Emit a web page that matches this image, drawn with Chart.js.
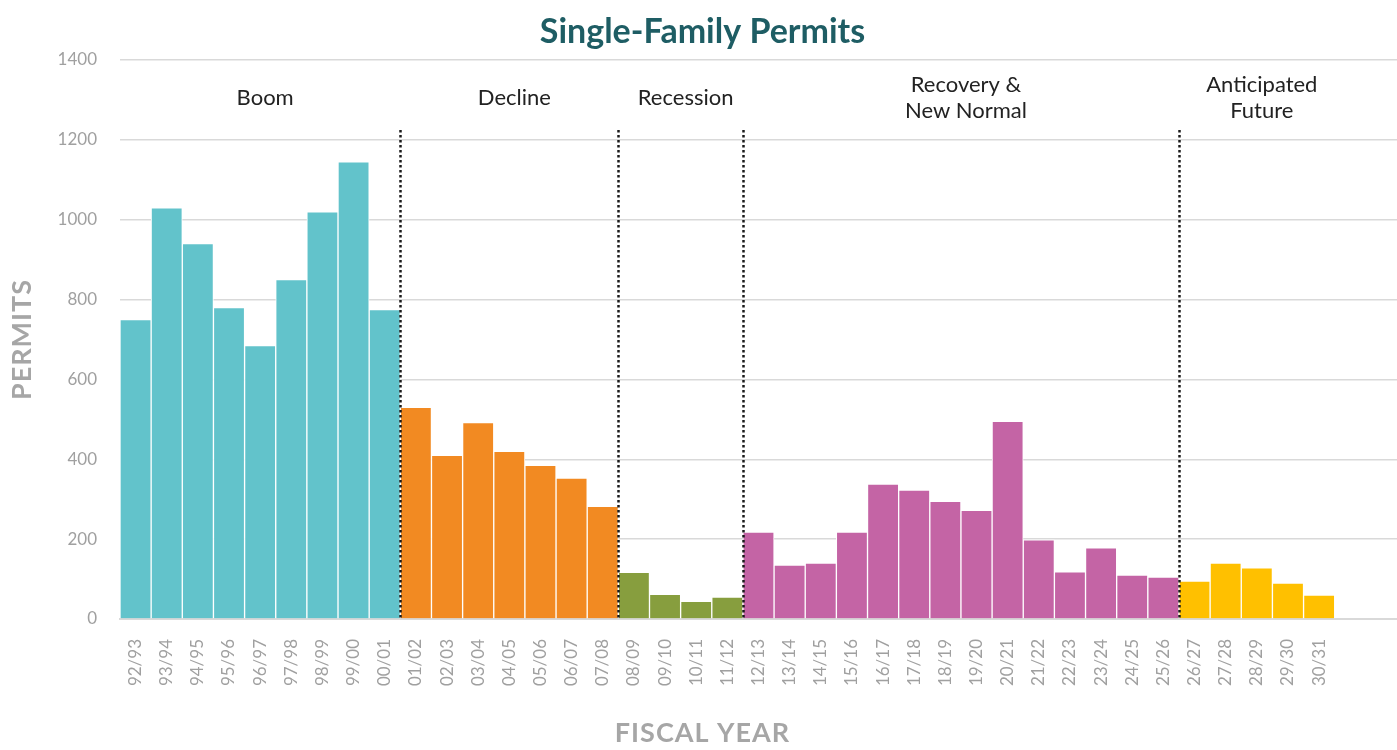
<!DOCTYPE html>
<html>
<head>
<meta charset="utf-8">
<script src="https://cdn.jsdelivr.net/npm/chart.js@4/dist/chart.umd.min.js"></script>
<style>
  html, body { margin: 0; padding: 0; background: #fff; }
  #wrap { width: 1397px; height: 750px; }
</style>
</head>
<body>
<div id="wrap"><canvas id="permitsChart"></canvas></div>
<script>
// fiscal years, two trailing blanks leave room on the right
const years = [
  "92/93", "93/94", "94/95", "95/96", "96/97", "97/98", "98/99", "99/00", "00/01",
  "01/02", "02/03", "03/04", "04/05", "05/06", "06/07", "07/08",
  "08/09", "09/10", "10/11", "11/12",
  "12/13", "13/14", "14/15", "15/16", "16/17", "17/18", "18/19", "19/20", "20/21",
  "21/22", "22/23", "23/24", "24/25", "25/26",
  "26/27", "27/28", "28/29", "29/30", "30/31", "", ""
];

const permits = [
  750, 1030, 940, 780, 685, 850, 1020, 1145, 775,
  530, 410, 492, 420, 385, 353, 282,
  117, 62, 44, 55,
  218, 135, 140, 218, 338, 323, 295, 272, 495, 198, 118, 178, 110, 105,
  95, 140, 128, 90, 60
];

// periods: first index, last index, label lines, bar colour
const phaseNames = [["Boom"], ["Decline"], ["Recession"], ["Recovery &", "New Normal"], ["Anticipated", "Future"]];
const phaseStart = [0, 9, 16, 20, 34];
const phaseEnd = [8, 15, 19, 33, 38];
const phaseColors = ["#62c3cb", "#f28a22", "#879e3e", "#c464a5", "#ffc000"];

const yTicks = [0, 200, 400, 600, 800, 1000, 1200, 1400];

const chartTitle = "Single-Family Permits";
const xTitle = "FISCAL YEAR";
const yTitle = "PERMITS";

const barColors = permits.map((v, i) => {
  const p = phaseStart.findIndex((s, k) => i >= s && i <= phaseEnd[k]);
  return phaseColors[p];
});

// dotted dividers, period names and the titles
const phasePlugin = {
  id: "phases",
  afterDatasetsDraw(chart) {
    const { ctx, width, chartArea, scales: { x, y } } = chart;
    ctx.save();
    // dividers between periods
    ctx.strokeStyle = "#1a1a1a";
    ctx.lineWidth = 2.5;
    ctx.setLineDash([2.5, 2.5]);
    for (let k = 1; k < phaseStart.length; k++) {
      const i = phaseStart[k];
      const px = Math.round((x.getPixelForValue(i - 1) + x.getPixelForValue(i)) / 2) + 0.5;
      ctx.beginPath();
      ctx.moveTo(px, y.getPixelForValue(1225));
      ctx.lineTo(px, y.getPixelForValue(0));
      ctx.stroke();
    }
    ctx.setLineDash([]);

    // period names
    ctx.fillStyle = "#222";
    ctx.font = "22px Lato";
    ctx.textAlign = "center";
    ctx.textBaseline = "middle";
    const lineH = 26;
    phaseNames.forEach((lines, k) => {
      const cx = (x.getPixelForValue(phaseStart[k]) + x.getPixelForValue(phaseEnd[k])) / 2;
      const cy = y.getPixelForValue(1305);
      const top = cy - (lines.length - 1) * lineH / 2;
      lines.forEach((t, j) => ctx.fillText(t, cx + 5, top + j * lineH));
    });

    // chart title
    ctx.fillStyle = "#1e5d64";
    ctx.font = "bold 34px Lato";
    ctx.fillText(chartTitle, width / 2 + 4, 32);

    // axis titles
    ctx.fillStyle = "#a6a6a6";
    ctx.font = "bold 27px Lato";
    ctx.letterSpacing = "1px";
    ctx.fillText(xTitle, width / 2 + 4, 733);
    ctx.translate(22, (chartArea.top + chartArea.bottom) / 2);
    ctx.rotate(-Math.PI / 2);
    ctx.fillText(yTitle, 0, 0);
    ctx.restore();
  }
};

new Chart(document.getElementById("permitsChart"), {
  type: "bar",
  data: {
    labels: years,
    datasets: [{
      label: chartTitle,
      data: permits,
      backgroundColor: barColors,
      borderColor: "#ffffff",
      borderWidth: { left: 1, right: 1, top: 1, bottom: 0 },
      borderSkipped: "bottom",
      barPercentage: 1,
      categoryPercentage: 1
    }]
  },
  options: {
    responsive: true,
    maintainAspectRatio: false,
    animation: false,
    layout: { padding: { left: 0, right: 0, top: 60, bottom: 0 } },
    plugins: {
      legend: { display: false },
      tooltip: { enabled: false },
      title: { display: false }
    },
    scales: {
      x: {
        afterFit: (axis) => {
          axis.height = 131;
          axis.paddingLeft = 0;
          axis.paddingRight = 0;
        },
        grid: { display: false, drawTicks: false },
        border: { color: "#d9d9d9", width: 2 },
        ticks: {
          color: "#a0a0a0",
          font: { family: "Lato", size: 17 },
          minRotation: 90,
          maxRotation: 90,
          autoSkip: false,
          padding: 20
        }
      },
      y: {
        min: 0,
        max: 1400,
        afterFit: (axis) => { axis.width = 120; },
        afterBuildTicks: (axis) => { axis.ticks = yTicks.map(v => ({ value: v })); },
        grid: { color: "#d9d9d9", lineWidth: 1.5, drawTicks: false },
        border: { display: false },
        ticks: {
          color: "#a0a0a0",
          font: { family: "Lato", size: 17 },
          padding: 23,
          callback: (v) => String(v)
        }
      }
    }
  },
  plugins: [phasePlugin]
});
</script>
</body>
</html>
